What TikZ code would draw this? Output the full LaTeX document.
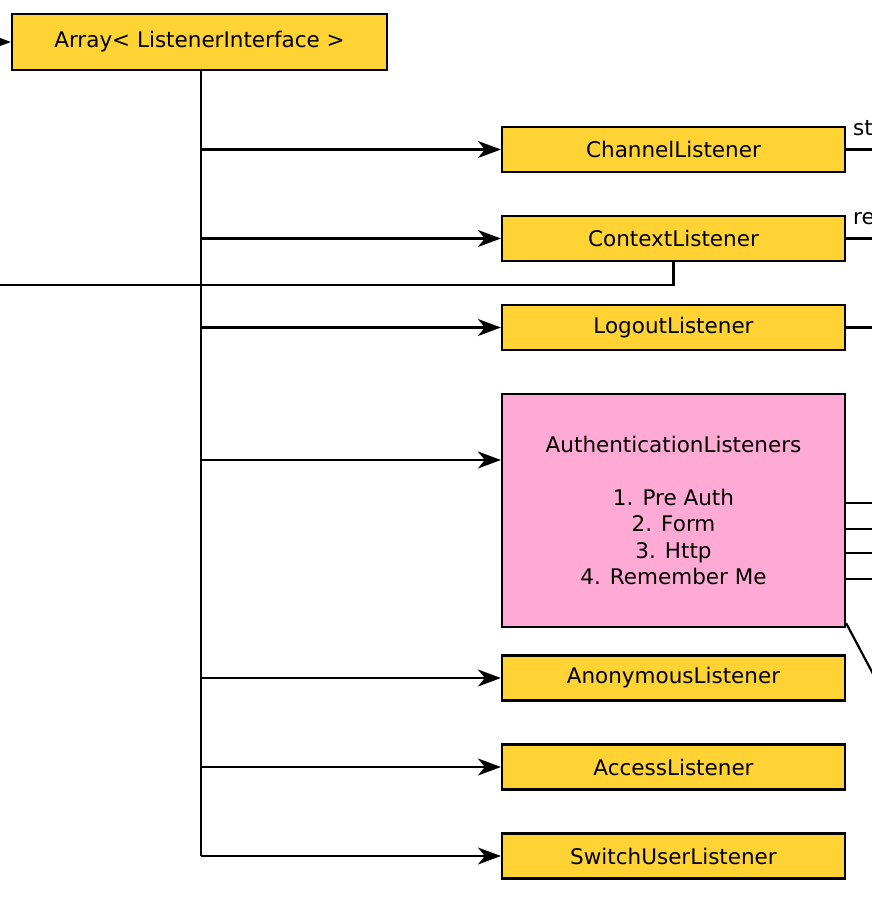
\documentclass[tikz,border=0pt]{standalone}
\usepackage{fontspec}
\setmainfont{DejaVu Sans}
\usetikzlibrary{arrows.meta}
\definecolor{boxyellow}{RGB}{255,211,51}
\definecolor{boxpink}{RGB}{255,170,213}
\begin{document}
\begin{tikzpicture}[x=1pt,y=-1pt,
  box/.style={draw=black, line width=2.2pt, fill=boxyellow, minimum width=343pt, minimum height=45pt, inner sep=0pt, font=\fontsize{21.5}{26.5}\selectfont},
  conn/.style={line width=2.2pt},
  arr/.style={conn, -{Stealth[length=23pt,width=17pt,inset=7pt]}},
  lbl/.style={anchor=base west, inner sep=0pt, font=\fontsize{21.5}{26.5}\selectfont}]
\useasboundingbox (0,0) rectangle (872,916);
\clip (0,0) rectangle (872,916);
\fill[white] (0,0) rectangle (872,916);
% nodes
\node[box, minimum width=375pt, minimum height=56pt] (array) at (199.5,42) {Array< ListenerInterface >};
\node[box] (chan) at (673.5,149.5) {ChannelListener};
\node[box] (ctx) at (673.5,238.5) {ContextListener};
\node[box] (logout) at (673.5,327.5) {LogoutListener};
\node[box, fill=boxpink, minimum height=233pt, align=center] (auth) at (673.5,510.5)
  {AuthenticationListeners\\[26.5pt]1. Pre Auth\\2. Form\\3. Http\\4. Remember Me};
\node[box] (anon) at (673.5,678) {AnonymousListener};
\node[box] (access) at (673.5,767) {AccessListener};
\node[box] (switch) at (673.5,856) {SwitchUserListener};
% coordinates
\coordinate (inA) at (-12,42);
\coordinate (trunk) at (201,856);
\coordinate (t4) at (201,460);
\coordinate (ctxout) at (-5,285);
\coordinate (chanout) at (880,149.5);
\coordinate (ctxoutR) at (880,238.5);
\coordinate (logoutR) at (880,327.5);
\coordinate (a1) at (880,503);
\coordinate (a2) at (880,529);
\coordinate (a3) at (880,553);
\coordinate (a4) at (880,579);
\coordinate (adiag) at (876.3,680);
% connectors
\draw[arr] (inA) -- (array.west);
\draw[conn] (array.south -| trunk) -- (trunk);
\draw[arr] (chan.west -| trunk) -- (chan.west);
\draw[arr] (ctx.west -| trunk) -- (ctx.west);
\draw[arr] (logout.west -| trunk) -- (logout.west);
\draw[arr] (t4) -- (auth.west |- t4);
\draw[arr] (anon.west -| trunk) -- (anon.west);
\draw[arr] (access.west -| trunk) -- (access.west);
\draw[arr] (switch.west -| trunk) -- (switch.west);
\draw[conn] (ctx.south) |- (ctxout);
\draw[conn] (chan.east) -- (chanout);
\draw[conn] (ctx.east) -- (ctxoutR);
\draw[conn] (logout.east) -- (logoutR);
\draw[conn] (auth.east |- a1) -- (a1);
\draw[conn] (auth.east |- a2) -- (a2);
\draw[conn] (auth.east |- a3) -- (a3);
\draw[conn] (auth.east |- a4) -- (a4);
\draw[conn] ([yshift=5pt]auth.south east) -- (adiag);
% labels
\node[lbl] (lst) at (853,135) {st};
\node[lbl] (lre) at (853,224) {re};
\end{tikzpicture}
\end{document}
